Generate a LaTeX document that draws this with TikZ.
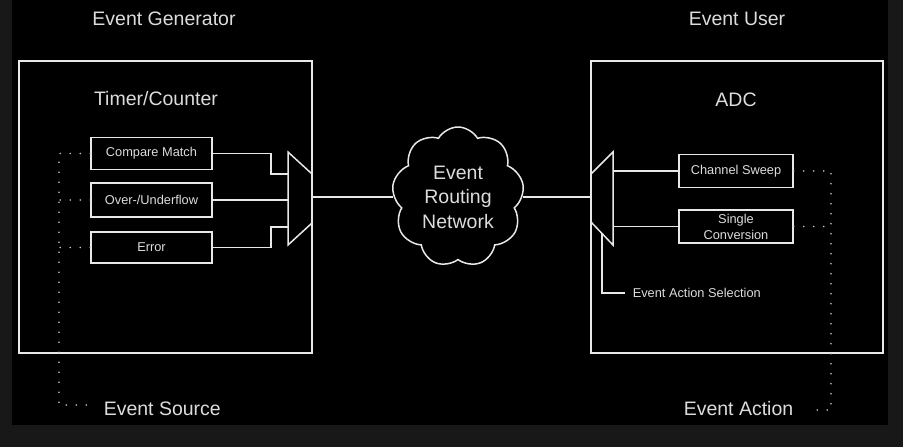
\documentclass[tikz,border=0pt]{standalone}
\usepackage{fontspec}
\setmainfont{Liberation Sans}
\usetikzlibrary{shapes.symbols}
\definecolor{fg}{HTML}{E8E8E8}
\definecolor{txt}{HTML}{DCDCDC}
\definecolor{dotc}{HTML}{C8C8C8}
\definecolor{rim}{HTML}{181818}
\begin{document}
\begin{tikzpicture}[x=1pt,y=-1pt,
  line width=1.5pt,
  wire/.style={draw=fg, line width=1.5pt},
  dots/.style={draw=dotc, line width=1.8pt, line cap=round, dash pattern=on 0pt off 10pt},
  bigtext/.style={text=txt, inner sep=0pt, font=\fontsize{19.5}{23}\selectfont},
  smalltext/.style={text=txt, inner sep=0pt, font=\fontsize{12.8}{16}\selectfont},
  frame/.style={draw=fg, line width=1.5pt, minimum width=293pt, minimum height=292pt, inner sep=0pt},
  lbox/.style={draw=fg, line width=1.5pt, minimum width=121pt, minimum height=32pt, inner sep=0pt, text=txt, align=center, font=\fontsize{12.8}{16}\selectfont},
  rbox/.style={lbox, minimum width=114pt, minimum height=33pt},
  netcloud/.style={cloud, draw=fg, line width=1.5pt, cloud puffs=9, cloud puff arc=120, aspect=1, minimum width=132pt, minimum height=140pt, inner sep=0pt, text=txt, align=center, font=\fontsize{19.5}{24.5}\selectfont}
]
\fill[rim] (0,0) rectangle (903,447);
\fill[black] (12,0) rectangle (888,425);
\useasboundingbox (0,0) rectangle (903,447);

% titles
\node[bigtext] (gen) at (164,19) {Event Generator};
\node[bigtext] (user) at (737,19) {Event User};

% frames
\node[frame] (lframe) at (165.5,207) {};
\node[frame, minimum width=292pt] (rframe) at (737,207) {};
\node[bigtext] (tc) at (156,99) {Timer/Counter};
\node[bigtext] (adc) at (736,100) {ADC};

% left boxes
\node[lbox] (cm) at (151.5,153.5) {Compare Match};
\node[lbox, minimum height=34pt] (ov) at (151.5,200) {Over-/Underflow};
\node[lbox, minimum height=31pt] (er) at (151.5,247.5) {Error};

% left mux
\draw[wire] (288,152) -- (312,174) -- (312,223) -- (288,245) -- cycle;
\coordinate (m1a) at (288,174);
\coordinate (j1) at (271,174);
\coordinate (m1L) at (288,200);
\coordinate (m1c) at (288,227);
\coordinate (j3) at (271,227);
\coordinate (m1out) at (312,198);

\draw[wire] (cm.east) -| (j1) -- (m1a);
\draw[wire] (ov.east) -- (ov.east -| m1L);
\draw[wire] (er.east) -| (j3) -- (m1c);

% cloud
\node[netcloud] (net) at (458,197) {Event\\Routing\\Network};

% right mux
\draw[wire] (613,152) -- (591,174) -- (591,222) -- (613,245) -- cycle;
\coordinate (m2L) at (591,197);
\coordinate (m2R) at (613,200);
\coordinate (m2sel) at (602,233.5);

\draw[wire] (m1out |- net.west) -- (net.west);
\draw[wire] (net.east) -- (m2L |- net.east);

% right boxes
\node[rbox] (cs) at (736,171) {Channel Sweep};
\node[rbox] (sc) at (736,226.5) {Single\\Conversion};
\draw[wire] (cs.west -| m2R) -- (cs.west);
\draw[wire] (sc.west -| m2R) -- (sc.west);

% event action selection
\node[smalltext, anchor=west] (eas) at (632,293) {Event Action Selection};
\draw[wire] (m2sel) |- ([xshift=-7pt]eas.west);

% bottom labels
\node[bigtext, anchor=west] (es) at (103,409) {Event Source};
\node[bigtext, anchor=west] (ea) at (683,409) {Event Action};

% dotted lines left
\coordinate (lbot) at (59,405);
\draw[dots] (cm.west) -| (lbot) -- ([xshift=-8pt]es.west |- lbot);
\draw[dots] (ov.west) -- (ov.west -| lbot);
\draw[dots] (er.west) -- (er.west -| lbot);

% dotted lines right
\coordinate (rbot) at (831,410);
\draw[dots] (cs.east) -| (rbot) -- ([xshift=23pt]ea.east |- rbot);
\draw[dots] (sc.east) -- (sc.east -| rbot);
\end{tikzpicture}
\end{document}
